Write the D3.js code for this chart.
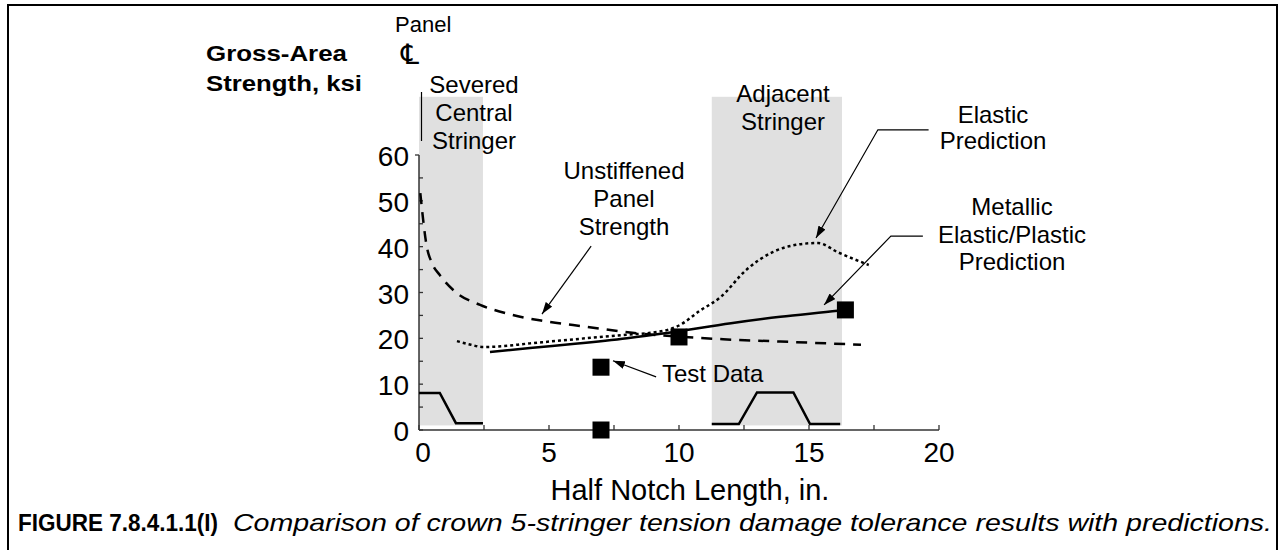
<!DOCTYPE html>
<html><head><meta charset="utf-8">
<script src="https://cdn.jsdelivr.net/npm/d3@7"></script>
<style>body{margin:0;background:#fff}svg{display:block}text{font-family:"Liberation Sans",Arial,sans-serif;fill:#000}</style>
</head><body>
<script>
// ---- data ----
const xTicks = [0, 5, 10, 15, 20];
const yTicks = [0, 10, 20, 30, 40, 50, 60];
const xMinorTicks = [2.5, 7.5, 12.5, 17.5];
const yMinorTicks = [5, 15, 25, 35, 45, 55];
const stringerBands = [[0, 2.46], [11.26, 16.27]];
const bandTop = 72.7, bandBottom = 1;
const centralStringerProfile = [[0, 8.1], [0.8, 8.1], [1.42, 1.5], [2.46, 1.5]];
const adjacentStringerProfile = [[11.26, 1.3], [12.3, 1.3], [13.0, 8.2], [14.4, 8.2], [15.04, 1.3], [16.2, 1.3]];
const elasticX = [1.46, 2.0, 2.46, 3.0, 4.27, 6.0, 8.0, 8.9, 9.65, 10.0, 10.8, 11.6, 12.6, 13.6, 14.5, 15.35, 16.1, 17.3];
const elasticY = [19.4, 18.6, 18.1, 18.2, 18.9, 19.8, 20.8, 21.2, 22.0, 22.8, 26.0, 29.0, 35.0, 38.8, 40.4, 40.8, 38.8, 36.0];
const metallicX = [2.73, 4.27, 6.0, 8.0, 9.6, 12.0, 13.9, 16.1, 16.4];
const metallicY = [17.0, 17.9, 18.8, 20.0, 21.2, 23.3, 24.7, 26.0, 26.2];
const unstiffX = [0.05, 0.3, 0.5, 0.8, 1.45, 2.35, 3.6, 4.77, 6.46, 8.2, 10.2, 11.7, 13.9, 17.0];
const unstiffY = [51.7, 40.0, 36.4, 33.8, 29.9, 27.3, 25.1, 23.8, 22.5, 21.2, 20.3, 19.8, 19.3, 18.6];
const testX = [7, 7, 10, 16.4];
const testY = [0, 13.7, 20.3, 26.2];
// annotation leader lines (data units), last point gets the arrowhead
const leaders = [
  [[6.62, 40.1], [4.73, 25.3]],
  [[9.12, 11.6], [7.46, 15.1]],
  [[19.6, 65.5], [17.65, 65.5], [15.27, 41.9]],
  [[19.38, 42.3], [18.15, 42.3], [15.58, 27.3]]
];

const W = 1285, H = 550;
const svg = d3.select("body").append("svg").attr("width", W).attr("height", H);
const x = d3.scaleLinear().domain([0, 20]).range([419, 939]);
const y = d3.scaleLinear().domain([0, 60]).range([430, 155]);

// frame
svg.append("rect").attr("x", 8).attr("y", 5).attr("width", 1269).attr("height", 560)
  .attr("fill", "none").attr("stroke", "#000").attr("stroke-width", 2);

// bands
svg.selectAll("rect.band").data(stringerBands).join("rect").attr("class", "band")
  .attr("x", d => x(d[0])).attr("width", d => x(d[1]) - x(d[0]))
  .attr("y", y(bandTop)).attr("height", y(bandBottom) - y(bandTop))
  .attr("fill", "#e0e0e0");

// axes
const axG = svg.append("g");
axG.append("line").attr("x1", x(0)).attr("x2", x(20)).attr("y1", y(0)).attr("y2", y(0)).attr("stroke", "#333").attr("stroke-width", 1.5);
axG.append("line").attr("x1", x(0)).attr("x2", x(0)).attr("y1", y(0)).attr("y2", y(60)).attr("stroke", "#333").attr("stroke-width", 1.5);
axG.selectAll("line.xt").data(xTicks.concat(xMinorTicks)).join("line").attr("class", "xt")
  .attr("x1", d => x(d)).attr("x2", d => x(d)).attr("y1", y(0)).attr("y2", y(0) - 5)
  .attr("stroke", "#333").attr("stroke-width", 1.3);
axG.selectAll("line.yt").data(yTicks.concat(yMinorTicks)).join("line").attr("class", "yt")
  .attr("y1", d => y(d)).attr("y2", d => y(d)).attr("x1", d => d === 60 ? x(0) - 4 : x(0)).attr("x2", d => d === 60 ? x(0) : x(0) + 4)
  .attr("stroke", "#333").attr("stroke-width", 1.3);
axG.selectAll("text.xl").data(xTicks).join("text").attr("class", "xl")
  .attr("x", d => x(d) + (d === 0 ? 4 : 0)).attr("y", 462).attr("text-anchor", "middle")
  .attr("font-size", 28).text(d => d);
axG.selectAll("text.yl").data(yTicks).join("text").attr("class", "yl")
  .attr("x", 409).attr("y", d => y(d) + 11).attr("text-anchor", "end")
  .attr("font-size", 28).text(d => d);

// stringer profiles
const lineGen = d3.line().x(d => x(d[0])).y(d => y(d[1]));
[centralStringerProfile, adjacentStringerProfile].forEach(p =>
  svg.append("path").attr("d", lineGen(p)).attr("fill", "none").attr("stroke", "#000").attr("stroke-width", 2.5));

// curves
const curveGen = d3.line().x(d => x(d[0])).y(d => y(d[1])).curve(d3.curveMonotoneX);
const zip = (a, b) => a.map((v, i) => [v, b[i]]);
svg.append("path").attr("d", curveGen(zip(unstiffX, unstiffY))).attr("fill", "none")
  .attr("stroke", "#000").attr("stroke-width", 2.5).attr("stroke-dasharray", "11,8");
svg.append("path").attr("d", curveGen(zip(elasticX, elasticY))).attr("fill", "none")
  .attr("stroke", "#000").attr("stroke-width", 2.5).attr("stroke-dasharray", "3,3");
svg.append("path").attr("d", curveGen(zip(metallicX, metallicY))).attr("fill", "none")
  .attr("stroke", "#000").attr("stroke-width", 2.5);

// test data
svg.selectAll("path.pt").data(zip(testX, testY)).join("path").attr("class", "pt")
  .attr("transform", d => `translate(${x(d[0])},${y(d[1])})`)
  .attr("d", d3.symbol().type(d3.symbolSquare).size(17 * 17)).attr("fill", "#000");

// arrow marker
svg.append("defs").append("marker").attr("id", "ah").attr("viewBox", "0 0 12 8")
  .attr("refX", 12).attr("refY", 4).attr("markerWidth", 12).attr("markerHeight", 8)
  .attr("markerUnits", "userSpaceOnUse").attr("orient", "auto")
  .append("path").attr("d", "M0,0L12,4L0,8Z").attr("fill", "#000");
leaders.forEach(l => svg.append("path").attr("d", lineGen(l)).attr("fill", "none")
  .attr("stroke", "#000").attr("stroke-width", 1.2).attr("marker-end", "url(#ah)"));

// centerline marker
svg.append("line").attr("x1", x(0) + 2.5).attr("x2", x(0) + 2.5).attr("y1", 92).attr("y2", 141)
  .attr("stroke", "#000").attr("stroke-width", 1.2);

// texts
function multi(lines, cx, y0, dy, size, anchor = "middle", weight = "normal", lens) {
  lines.forEach((t, i) => {
    const el = svg.append("text").attr("x", cx).attr("y", y0 + i * dy)
      .attr("text-anchor", anchor).attr("font-size", size).attr("font-weight", weight).text(t);
    if (lens) el.attr("textLength", lens[i]).attr("lengthAdjust", "spacingAndGlyphs");
  });
}
multi(["Gross-Area", "Strength, ksi"], 206, 61, 30, 22, "start", "bold", [141, 156]);
multi(["Panel"], 395, 32, 0, 22, "start");
svg.append("text").attr("x", 401).attr("y", 64).attr("font-size", 28)
  .style("font-family", "'DejaVu Sans', sans-serif").text("\u2104");
multi(["Severed", "Central", "Stringer"], 474, 93, 28, 24);
multi(["Adjacent", "Stringer"], 783, 102, 28, 24);
multi(["Elastic", "Prediction"], 993, 123, 26, 24);
multi(["Metallic", "Elastic/Plastic", "Prediction"], 1012, 215, 27.5, 24);
multi(["Unstiffened", "Panel", "Strength"], 624, 179, 28, 24);
multi(["Test Data"], 662, 382, 0, 24, "start");
multi(["Half Notch Length, in."], 690, 500, 0, 29);
svg.append("text").attr("x", 18).attr("y", 531).attr("font-size", 24).attr("font-weight", "bold")
  .attr("textLength", 200).attr("lengthAdjust", "spacingAndGlyphs").text("FIGURE 7.8.4.1.1(I)");
svg.append("text").attr("x", 233).attr("y", 531).attr("font-size", 24).attr("font-style", "italic")
  .attr("textLength", 1039).attr("lengthAdjust", "spacingAndGlyphs")
  .text("Comparison of crown 5-stringer tension damage tolerance results with predictions.");
</script>
</body></html>
